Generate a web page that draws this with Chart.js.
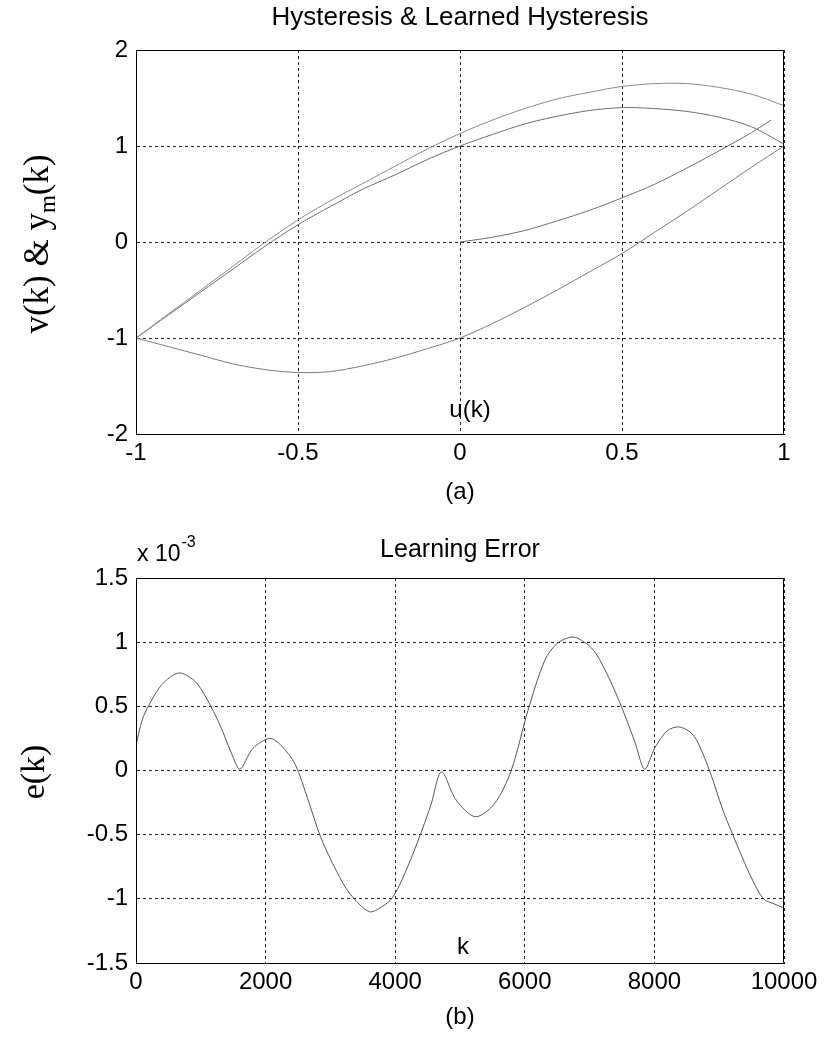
<!DOCTYPE html>
<html>
<head>
<meta charset="utf-8">
<script src="https://cdn.jsdelivr.net/npm/chart.js@4.4.1/dist/chart.umd.min.js"></script>
<style>
  body { margin: 0; background: #fff; }
  .box { position: absolute; left: 0; width: 826px; }
</style>
</head>
<body>
<div class="box" style="top:0;height:518px"><canvas id="chartHyst"></canvas></div>
<div class="box" style="top:518px;height:519px"><canvas id="chartErr"></canvas></div>
<script>
// (a) hysteresis loops, u(k) on x
var hystXTicks = [-1, -0.5, 0, 0.5, 1];
var hystYTicks = [-2, -1, 0, 1, 2];

// initial curve from the origin
var initU = [0, 0.1, 0.2, 0.3, 0.4, 0.5, 0.6, 0.7, 0.8, 0.9, 0.96];
var initV = [0, 0.05, 0.12, 0.22, 0.33, 0.46, 0.6, 0.77, 0.95, 1.14, 1.27];

// branches sampled on the same u grid
var branchU = [-1, -0.9, -0.8, -0.7, -0.6, -0.5, -0.4, -0.3, -0.2, -0.1, 0, 0.1, 0.2, 0.3, 0.4, 0.5, 0.6, 0.7, 0.8, 0.9, 1];
var upperOuter = [-1, -0.75, -0.5, -0.25, 0.0, 0.23, 0.43, 0.61, 0.79, 0.97, 1.13, 1.27, 1.39, 1.49, 1.56, 1.62, 1.65, 1.65, 1.61, 1.54, 1.42];
var upperInner = [-1, -0.76, -0.52, -0.28, -0.04, 0.18, 0.37, 0.55, 0.7, 0.86, 1.0, 1.12, 1.23, 1.31, 1.37, 1.40, 1.39, 1.36, 1.30, 1.20, 1.02];
var lowerBranch = [-1, -1.09, -1.18, -1.27, -1.33, -1.36, -1.35, -1.29, -1.21, -1.11, -1.0, -0.85, -0.68, -0.5, -0.31, -0.12, 0.1, 0.32, 0.55, 0.78, 1.0];

// (b) learning error, values in units of 1e-3
var errXTicks = [0, 2000, 4000, 6000, 8000, 10000];
var errYTicks = [-1.5, -1, -0.5, 0, 0.5, 1, 1.5];
var errK = [0, 100, 200, 400, 660, 900, 1080, 1300, 1477, 1605, 1800, 2065, 2250, 2455, 2650, 2850, 3100, 3300, 3600, 3800, 3960, 4150, 4350, 4550, 4713, 4940, 5236, 5530, 5790, 6050, 6310, 6500, 6740, 6950, 7100, 7300, 7490, 7700, 7850, 8010, 8200, 8375, 8550, 8670, 8865, 9050, 9193, 9350, 9520, 9683, 9850, 10000];
var errVal = [0.2, 0.4, 0.51, 0.67, 0.76, 0.7, 0.57, 0.35, 0.13, 0.01, 0.17, 0.25, 0.19, 0.05, -0.22, -0.52, -0.79, -0.96, -1.1, -1.06, -0.99, -0.8, -0.55, -0.27, -0.01, -0.23, -0.36, -0.26, 0.0, 0.47, 0.86, 0.99, 1.04, 0.99, 0.91, 0.72, 0.5, 0.22, 0.01, 0.18, 0.31, 0.34, 0.3, 0.22, -0.02, -0.3, -0.48, -0.67, -0.86, -1.0, -1.04, -1.07];

function pts(xs, ys) {
  return xs.map(function (x, i) { return { x: x, y: ys[i] }; });
}

var SANS = '"Liberation Sans", Arial, sans-serif';
var SERIF = '"Liberation Serif", "Times New Roman", serif';

// frame, title, rotated y label (with subscript) and the labels inside the axes
var decorPlugin = {
  id: 'decor',
  afterDraw: function (chart, args, o) {
    var ctx = chart.ctx, a = chart.chartArea;
    ctx.save();
    ctx.strokeStyle = '#000';
    ctx.lineWidth = 1;
    ctx.strokeRect(Math.round(a.left) + 0.5, Math.round(a.top) + 0.5,
      Math.round(a.right - a.left) - 1, Math.round(a.bottom - a.top));

    ctx.fillStyle = '#000';
    ctx.textBaseline = 'middle';
    ctx.textAlign = 'center';
    var mid = (a.left + a.right) / 2;
    ctx.font = o.titleSize + 'px ' + SANS;
    ctx.fillText(o.title, mid, o.titleY);
    if (o.inner) {
      ctx.font = '24px ' + SANS;
      ctx.fillText(o.inner, o.innerX, o.innerY);
    }
    if (o.expo) {
      ctx.textAlign = 'left';
      ctx.font = '23px ' + SANS;
      ctx.fillText('x 10', o.expoX, o.expoY);
      var w = ctx.measureText('x 10').width;
      ctx.font = '16px ' + SANS;
      ctx.fillText('-3', o.expoX + w + 1, o.expoY - 12);
    }
    if (o.ylabel) {
      var total = 0;
      o.ylabel.forEach(function (p) {
        ctx.font = p.size + 'px ' + SERIF;
        p.w = ctx.measureText(p.t).width;
        total += p.w;
      });
      ctx.translate(o.ylabelX, o.ylabelY);
      ctx.rotate(-Math.PI / 2);
      ctx.textAlign = 'left';
      ctx.textBaseline = 'alphabetic';
      var x = -total / 2;
      o.ylabel.forEach(function (p) {
        ctx.font = p.size + 'px ' + SERIF;
        ctx.fillText(p.t, x, p.dy || 0);
        x += p.w;
      });
    }
    ctx.restore();
  }
};

function axisOpts(ticks, min, max) {
  return {
    type: 'linear',
    min: min,
    max: max,
    afterBuildTicks: function (s) { s.ticks = ticks.map(function (v) { return { value: v }; }); },
    grid: { color: '#222', lineWidth: 1, drawTicks: false },
    border: { display: true, color: '#000', width: 1, dash: [3, 3] },
    ticks: {
      autoSkip: false,
      color: '#000',
      font: { family: SANS, size: 24 },
      callback: function (v) { return String(v); }
    }
  };
}

function lineSet(data, color, tension) {
  return {
    data: data,
    showLine: true,
    borderColor: color,
    borderWidth: 1,
    pointRadius: 0,
    tension: tension,
    fill: false
  };
}

// chart (a)
var xA = axisOpts(hystXTicks, -1, 1);
xA.ticks.padding = 5;
xA.title = { display: true, text: '(a)', color: '#000', font: { family: SANS, size: 24 }, padding: { top: 0, bottom: 11 } };
xA.afterFit = function (s) { s.height = 84; };
var yA = axisOpts(hystYTicks, -2, 2);
yA.ticks.padding = 8;
yA.afterFit = function (s) { s.width = 136; };

new Chart(document.getElementById('chartHyst'), {
  type: 'scatter',
  data: {
    datasets: [
      lineSet(pts(branchU, upperOuter), '#8a8a8a', 0.3),
      lineSet(pts(branchU, upperInner), '#6e6e6e', 0.3),
      lineSet(pts(branchU, lowerBranch), '#7a7a7a', 0.3),
      lineSet(pts(initU, initV), '#6e6e6e', 0.3)
    ]
  },
  options: {
    responsive: true,
    maintainAspectRatio: false,
    animation: false,
    layout: { padding: { left: 0, right: 42, top: 50, bottom: 0 } },
    scales: { x: xA, y: yA },
    plugins: {
      legend: { display: false },
      tooltip: { enabled: false },
      decor: {
        title: 'Hysteresis & Learned Hysteresis', titleSize: 26, titleY: 18,
        inner: 'u(k)', innerX: 470, innerY: 410,
        ylabel: [{ t: 'v(k) & y', size: 35 }, { t: 'm', size: 23, dy: 7 }, { t: '(k)', size: 35 }],
        ylabelX: 48, ylabelY: 244
      }
    }
  },
  plugins: [decorPlugin]
});

// chart (b)
var xB = axisOpts(errXTicks, 0, 10000);
xB.ticks.padding = 5;
xB.title = { display: true, text: '(b)', color: '#000', font: { family: SANS, size: 24 }, padding: { top: 0, bottom: 5 } };
xB.afterFit = function (s) { s.height = 74; };
var yB = axisOpts(errYTicks, -1.5, 1.5);
yB.ticks.padding = 8;
yB.afterFit = function (s) { s.width = 136; };

new Chart(document.getElementById('chartErr'), {
  type: 'scatter',
  data: {
    datasets: [lineSet(pts(errK, errVal), '#555', 0.3)]
  },
  options: {
    responsive: true,
    maintainAspectRatio: false,
    animation: false,
    layout: { padding: { left: 0, right: 42, top: 60, bottom: 0 } },
    scales: { x: xB, y: yB },
    plugins: {
      legend: { display: false },
      tooltip: { enabled: false },
      decor: {
        title: 'Learning Error', titleSize: 25, titleY: 32,
        inner: 'k', innerX: 463, innerY: 429,
        expo: true, expoX: 137, expoY: 37,
        ylabel: [{ t: 'e(k)', size: 34 }],
        ylabelX: 44, ylabelY: 254
      }
    }
  },
  plugins: [decorPlugin]
});
</script>
</body>
</html>
